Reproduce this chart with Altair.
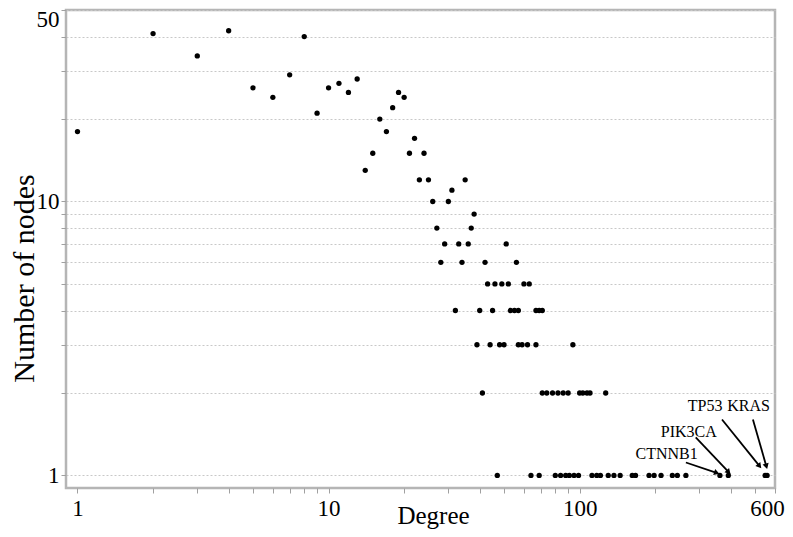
import math
import altair as alt
import pandas as pd

# ---- data (degree, number of nodes with that degree) ----
degree = [
    4, 2, 8, 3, 7, 13, 11, 5, 10, 12, 19, 6, 20, 18, 9, 16, 1, 17, 22,
    15, 21, 24, 14, 23, 25, 35, 31, 26, 30, 38, 27, 37,
    29, 33, 36, 51,
    28, 34, 42, 56,
    43, 46, 49, 52, 60, 63,
    32, 40, 45, 53, 55, 57, 67, 69, 71,
    39, 44, 48, 50, 57, 59, 62, 67, 94,
    41, 71, 74, 78, 82, 86, 90, 100, 103, 107, 110, 127,
    47, 64, 69, 80, 84, 88, 91, 95, 99, 112, 117, 121, 130, 137, 145,
    162, 167, 189, 198, 211, 234, 245, 265, 362, 391, 548, 558,
]
num_nodes = [
    42, 41, 40, 34, 29, 28, 27, 26, 26, 25, 25, 24, 24, 22, 21, 20, 18, 18, 17,
    15, 15, 15, 13, 12, 12, 12, 11, 10, 10, 9, 8, 8,
    7, 7, 7, 7,
    6, 6, 6, 6,
    5, 5, 5, 5, 5, 5,
    4, 4, 4, 4, 4, 4, 4, 4, 4,
    3, 3, 3, 3, 3, 3, 3, 3, 3,
    2, 2, 2, 2, 2, 2, 2, 2, 2, 2, 2, 2,
    1, 1, 1, 1, 1, 1, 1, 1, 1, 1, 1, 1, 1, 1, 1,
    1, 1, 1, 1, 1, 1, 1, 1, 1, 1, 1, 1,
]

x_ticks = [1, 2, 3, 4, 5, 6, 7, 8, 9, 10, 20, 30, 40, 50, 60, 70, 80, 90, 100,
           200, 300, 400, 500, 600]
x_labels = [1, 10, 100, 600]
y_ticks = [1, 2, 3, 4, 5, 6, 7, 8, 9, 10, 20, 30, 40, 50]
y_labels = [1, 10, 50]

# annotations (hub genes)
genes = ["CTNNB1", "PIK3CA", "TP53", "KRAS"]
label_x = [222, 272, 316, 471]
label_y = [1.193, 1.447, 1.786, 1.786]
arrow_x0 = [265, 290, 369, 490]
arrow_y0 = [1.115, 1.376, 1.601, 1.601]
arrow_x1 = [349, 390, 518, 553]
arrow_y1 = [1.025, 1.034, 1.088, 1.088]

X_DOMAIN = [0.9, 600]
Y_DOMAIN = [0.9, 50]
W, H = 709, 478
FONT = "Liberation Serif"


def px(x):
    lo, hi = math.log10(X_DOMAIN[0]), math.log10(X_DOMAIN[1])
    return (math.log10(x) - lo) / (hi - lo) * W


def py(y):
    lo, hi = math.log10(Y_DOMAIN[0]), math.log10(Y_DOMAIN[1])
    return (hi - math.log10(y)) / (hi - lo) * H


angles = []
for a, b, c, d in zip(arrow_x0, arrow_y0, arrow_x1, arrow_y1):
    dx = px(c) - px(a)
    dy = py(d) - py(b)
    ang = math.degrees(math.atan2(dx, -dy)) % 360
    angles.append(ang)

pts = pd.DataFrame({"degree": degree, "nodes": num_nodes})
ann = pd.DataFrame({
    "gene": genes, "lx": label_x, "ly": label_y,
    "x0": arrow_x0, "y0": arrow_y0, "x1": arrow_x1, "y1": arrow_y1,
    "angle": angles,
})

xs = alt.Scale(type="log", domain=X_DOMAIN, nice=False)
ys = alt.Scale(type="log", domain=Y_DOMAIN, nice=False)

x_label_expr = "indexof([%s], datum.value) >= 0 ? datum.label : ''" % ",".join(str(v) for v in x_labels)
y_label_expr = "indexof([%s], datum.value) >= 0 ? datum.label : ''" % ",".join(str(v) for v in y_labels)

x_axis = alt.Axis(
    values=x_ticks, labelExpr=x_label_expr, grid=False, title="Degree",
    titleX=367, titleY=35, titleBaseline="alphabetic", titleAlign="center",
    labelPadding=4, tickSize=5, labelFlush=False, labelOverlap=False,
    labelOffset={"condition": {"test": "datum.value == 600", "value": -8}, "value": 0},
)
y_axis = alt.Axis(
    values=y_ticks, labelExpr=y_label_expr, grid=True, title="Number of nodes",
    titleX=-42, titleY=268, titleBaseline="middle", titleAlign="center",
    titleFontSize=30,
    labelPadding=2, tickSize=5, labelFlush=False, labelOverlap=False,
    labelOffset={"condition": {"test": "datum.value == 50", "value": 9}, "value": 0},
    gridDash=[2, 2], gridColor="#c8c8c8", gridWidth=1,
)

points = alt.Chart(pts).mark_circle(color="black", opacity=1, size=28).encode(
    x=alt.X("degree:Q", scale=xs, axis=x_axis),
    y=alt.Y("nodes:Q", scale=ys, axis=y_axis),
)

arrows = alt.Chart(ann).mark_rule(color="black", strokeWidth=1.8).encode(
    x=alt.X("x0:Q", scale=xs),
    y=alt.Y("y0:Q", scale=ys),
    x2="x1:Q",
    y2="y1:Q",
)

heads = alt.Chart(ann).mark_point(
    shape="triangle", filled=True, color="black", opacity=1, size=40
).encode(
    x=alt.X("x1:Q", scale=xs),
    y=alt.Y("y1:Q", scale=ys),
    angle=alt.Angle("angle:Q", scale=None),
)

labels = alt.Chart(ann).mark_text(
    font=FONT, fontSize=16, color="black", align="center", baseline="middle"
).encode(
    x=alt.X("lx:Q", scale=xs),
    y=alt.Y("ly:Q", scale=ys),
    text="gene:N",
)

chart = alt.layer(points, arrows, heads, labels).properties(
    width=W, height=H,
    autosize=alt.AutoSizeParams(type="none"),
    padding={"left": 58, "top": 2, "right": 10, "bottom": 41},
).configure_view(
    stroke="#b5b5b5", strokeWidth=2.5,
).configure_axis(
    labelFont=FONT, labelFontSize=23, labelColor="black",
    titleFont=FONT, titleFontSize=25, titleColor="black", titleFontWeight="normal",
    tickColor="#a0a0a0", domain=False,
)

chart.save("out.html", embed_options={"renderer": "svg", "actions": False})
